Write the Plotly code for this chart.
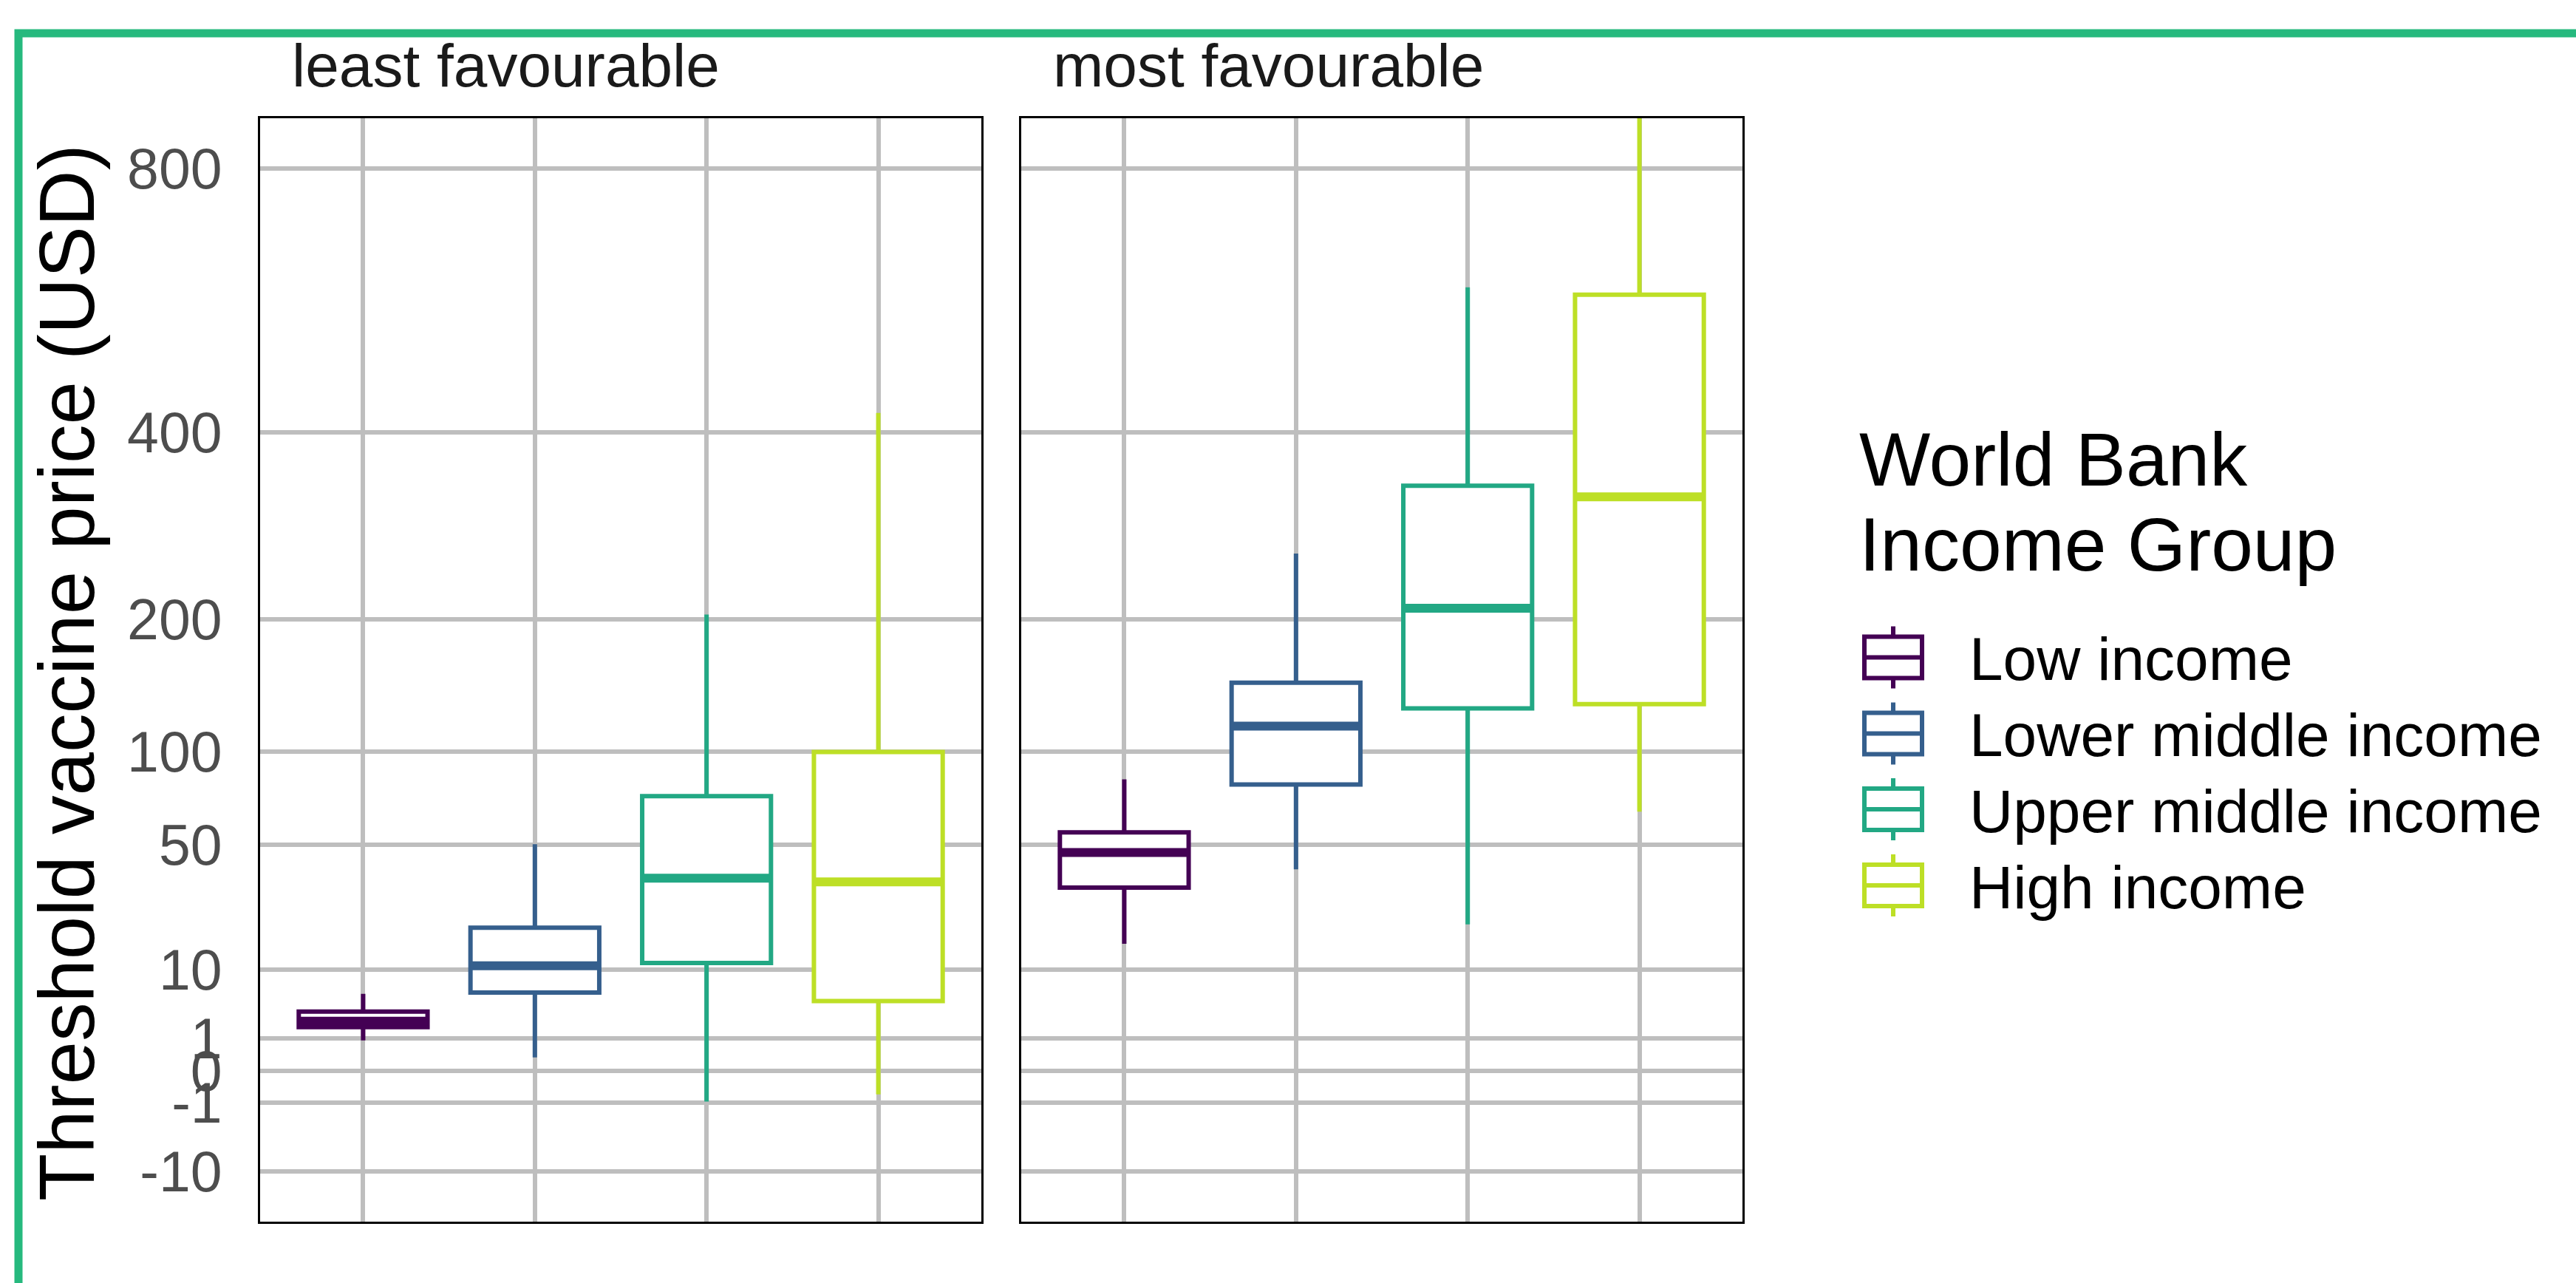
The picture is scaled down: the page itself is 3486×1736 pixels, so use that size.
import numpy as np
import plotly.graph_objects as go

# ---------------- data ----------------
groups = ["Low income", "Lower middle income", "Upper middle income", "High income"]
colors = ["#440154", "#355F8D", "#22A884", "#BDDF26"]
panels = ["least favourable", "most favourable"]

least_lower = [0.9, 0.17, -0.94, -0.55]
least_q1 = [1.87, 6.0, 11.4, 4.77]
least_median = [2.4, 10.8, 36.4, 35.0]
least_q3 = [3.42, 20.1, 74.0, 99.8]
least_upper = [5.8, 50.4, 204.5, 425.0]

most_lower = [15.8, 39.8, 21.0, 65.9]
most_q1 = [32.9, 80.5, 128.9, 132.0]
most_median = [46.8, 116.6, 210.2, 323.6]
most_q3 = [55.8, 147.9, 336.2, 591.6]
most_upper = [83.4, 262.7, 603.0, 950.0]

y_ticks = [-10, -1, 0, 1, 10, 50, 100, 200, 400, 800]
y_ticktext = ["-10", "-1", "0", "1", "10", "50", "100", "200", "400", "800"]
y_limits = [-10, 800]

# ---------------- helpers ----------------
W, H = 3486, 1736
ML, MR, MT, MB = 352, W - 2358, 160, H - 1653
PW, PH = W - ML - MR, H - MT - MB


def tr(v):
    v = np.asarray(v, dtype=float)
    return np.sign(v) * np.sqrt(np.abs(v))


def px(x):
    return (x - ML) / PW


def py(y):
    return (H - MB - y) / PH


FONT = "Liberation Sans, Arial, sans-serif"
BOXW = 0.75
LW = 6

fig = go.Figure()

panel_data = [
    (least_lower, least_q1, least_median, least_q3, least_upper),
    (most_lower, most_q1, most_median, most_q3, most_upper),
]

for p, (lo, q1, med, q3, up) in enumerate(panel_data):
    xa = "x" if p == 0 else "x2"
    ya = "y" if p == 0 else "y2"
    for i, g in enumerate(groups):
        xpos = i + 1
        fig.add_trace(go.Box(
            x=[xpos], q1=tr([q1[i]]), median=tr([med[i]]), q3=tr([q3[i]]),
            lowerfence=tr([lo[i]]), upperfence=tr([up[i]]),
            width=BOXW, whiskerwidth=0, boxpoints=False,
            fillcolor="white", line=dict(color=colors[i], width=LW),
            name=g, legendgroup=g, showlegend=False,
            xaxis=xa, yaxis=ya,
        ))
    for i, g in enumerate(groups):
        xpos = i + 1
        m = float(tr([med[i]])[0])
        fig.add_trace(go.Scatter(
            x=[xpos - BOXW / 2, xpos + BOXW / 2], y=[m, m], mode="lines",
            line=dict(color=colors[i], width=12), showlegend=False,
            hoverinfo="skip", xaxis=xa, yaxis=ya,
        ))

t_lo, t_hi = tr(y_limits)
span = t_hi - t_lo
y_range = [t_lo - 0.05 * span, t_hi + 0.05 * span]

d1 = [0, px(1328)]
d2 = [px(1382), 1]

axis_common = dict(
    showline=True, mirror=True, linecolor="black", linewidth=3,
    showgrid=True, gridcolor="#BEBEBE", gridwidth=6, zeroline=False,
    ticks="",
)

fig.update_layout(
    width=W, height=H,
    margin=dict(l=ML, r=MR, t=MT, b=MB, pad=0),
    paper_bgcolor="white", plot_bgcolor="white",
    showlegend=False,
    font=dict(family=FONT),
    xaxis=dict(domain=d1, range=[0.4, 4.6], tickvals=[1, 2, 3, 4],
               showticklabels=False, **axis_common),
    xaxis2=dict(domain=d2, range=[0.4, 4.6], tickvals=[1, 2, 3, 4],
                showticklabels=False, anchor="y2", **axis_common),
    yaxis=dict(range=y_range, tickvals=list(tr(y_ticks)), ticktext=y_ticktext,
               tickfont=dict(size=77, color="#4D4D4D", family=FONT),
               ticklabelstandoff=33, anchor="x", **axis_common),
    yaxis2=dict(range=y_range, tickvals=list(tr(y_ticks)), matches="y",
                showticklabels=False, anchor="x2", **axis_common),
)

annotations = []
# strip titles
for name, xl in zip(panels, [393, 1423]):
    annotations.append(dict(
        text=name, x=px(xl), y=py(88), xref="paper", yref="paper",
        xanchor="left", yanchor="middle", showarrow=False,
        font=dict(size=82, color="#1A1A1A", family=FONT),
    ))
# y-axis title
annotations.append(dict(
    text="Threshold vaccine price (USD)", x=px(90), y=py(910),
    xref="paper", yref="paper", xanchor="center", yanchor="middle",
    textangle=-90, showarrow=False,
    font=dict(size=105, color="black", family=FONT),
))
# legend title
for line, yc in zip(["World Bank", "Income Group"], [622, 737]):
    annotations.append(dict(
        text=line, x=px(2514), y=py(yc), xref="paper", yref="paper",
        xanchor="left", yanchor="middle", showarrow=False,
        font=dict(size=102, color="black", family=FONT),
    ))

shapes = []
key_centers = [889.5, 992.5, 1095, 1198]
kx0, kx1 = 2523, 2601
kxc = (kx0 + kx1) / 2
for g, c, yc in zip(groups, colors, key_centers):
    annotations.append(dict(
        text=g, x=px(2663), y=py(yc + 2), xref="paper", yref="paper",
        xanchor="left", yanchor="middle", showarrow=False,
        font=dict(size=82, color="black", family=FONT),
    ))
    shapes.append(dict(type="rect", xref="paper", yref="paper",
                       x0=px(kx0), x1=px(kx1), y0=py(yc - 28), y1=py(yc + 28),
                       line=dict(color=c, width=LW), fillcolor="white"))
    shapes.append(dict(type="line", xref="paper", yref="paper",
                       x0=px(kx0), x1=px(kx1), y0=py(yc), y1=py(yc),
                       line=dict(color=c, width=LW)))
    shapes.append(dict(type="line", xref="paper", yref="paper",
                       x0=px(kxc), x1=px(kxc), y0=py(yc - 42), y1=py(yc - 28),
                       line=dict(color=c, width=LW)))
    shapes.append(dict(type="line", xref="paper", yref="paper",
                       x0=px(kxc), x1=px(kxc), y0=py(yc + 28), y1=py(yc + 42),
                       line=dict(color=c, width=LW)))

# outer green frame
shapes.append(dict(type="rect", xref="paper", yref="paper",
                   x0=px(25), x1=px(3700), y0=py(1900), y1=py(45),
                   line=dict(color="#26B97E", width=11), fillcolor="rgba(0,0,0,0)",
                   layer="above"))

fig.update_layout(annotations=annotations, shapes=shapes)

fig.write_html("out.html")
